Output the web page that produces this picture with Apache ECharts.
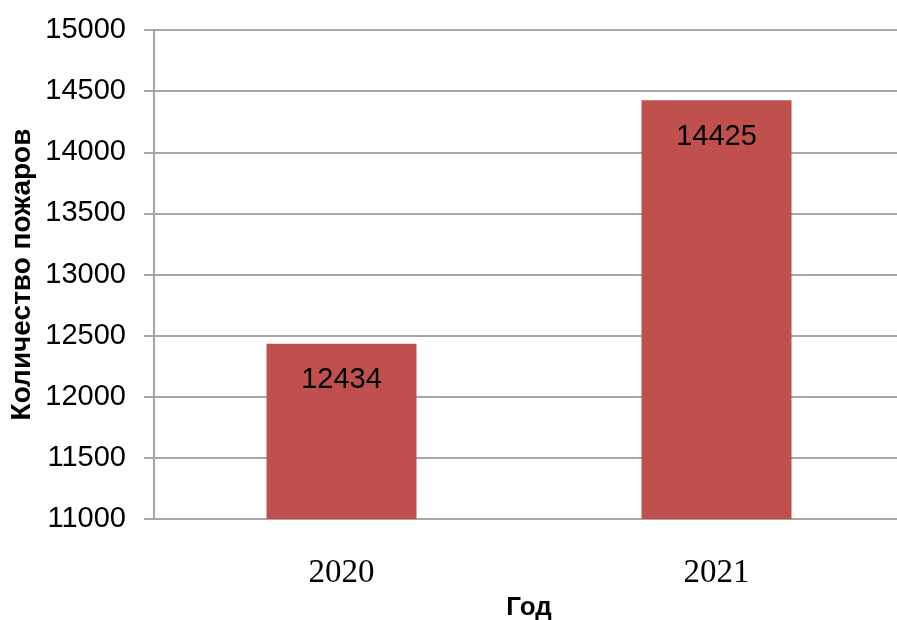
<!DOCTYPE html>
<html>
<head>
<meta charset="utf-8">
<script src="https://cdn.jsdelivr.net/npm/echarts@6/dist/echarts.min.js"></script>
<style>
  html, body { margin: 0; padding: 0; background: #fff; }
  #chart { width: 897px; height: 620px; }
</style>
</head>
<body>
<div id="chart"></div>
<script>
// данные
var years = ['2020', '2021'];
var fires = [12434, 14425];

var chart = echarts.init(document.getElementById('chart'));

var option = {
  animation: false,
  grid: {
    left: 154,
    top: 30,
    width: 750,
    bottom: 101,
    containLabel: false,
    outerBoundsMode: 'none'
  },
  xAxis: {
    type: 'category',
    data: years,
    name: 'Год',
    nameLocation: 'middle',
    nameGap: 76,
    nameMoveOverlap: false,
    nameTextStyle: {
      fontFamily: 'Liberation Sans',
      fontWeight: 'bold',
      fontSize: 26,
      color: '#000'
    },
    axisLine: { lineStyle: { color: '#a6a6a6', width: 2 } },
    axisTick: { length: 12, lineStyle: { color: '#a6a6a6', width: 2 } },
    axisLabel: {
      margin: 38,
      fontFamily: 'Liberation Serif',
      fontSize: 33,
      color: '#000'
    }
  },
  yAxis: {
    type: 'value',
    min: 11000,
    max: 15000,
    interval: 500,
    name: 'Количество пожаров',
    nameLocation: 'middle',
    nameGap: 118,
    nameRotate: 90,
    nameMoveOverlap: false,
    nameTextStyle: {
      fontFamily: 'Liberation Sans',
      fontWeight: 'bold',
      fontSize: 28,
      color: '#000'
    },
    axisLine: { show: true, lineStyle: { color: '#a6a6a6', width: 2 } },
    axisTick: { show: true, length: 10, lineStyle: { color: '#a6a6a6', width: 2 } },
    splitLine: { lineStyle: { color: '#a6a6a6', width: 2 } },
    axisLabel: {
      margin: 28,
      fontFamily: 'Liberation Sans',
      fontSize: 29,
      color: '#000',
      formatter: function (v) { return String(v); }
    }
  },
  series: [
    {
      name: 'Пожары',
      type: 'bar',
      data: fires,
      barWidth: 150,
      itemStyle: { color: '#c0504d' },
      label: {
        show: true,
        position: 'insideTop',
        distance: 22,
        fontFamily: 'Liberation Sans',
        fontSize: 29,
        color: '#000'
      }
    }
  ]
};

chart.setOption(option);
</script>
</body>
</html>
